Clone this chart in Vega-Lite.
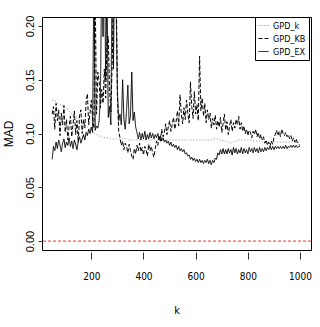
{
"$schema":"https://vega.github.io/schema/vega-lite/v6.json",
"width":269,"height":233,
"autosize":{"type":"none"},
"padding":{"left":42,"top":17,"right":9,"bottom":77},
"background":"white",
"config":{"view":{"stroke":"black","strokeWidth":1},"font":"Liberation Sans"},
"data":{"values":[
{"k":50,"GPD_k":0.131,"GPD_KB":0.118,"GPD_EX":0.076},
{"k":55,"GPD_k":0.131,"GPD_KB":0.125,"GPD_EX":0.088},
{"k":60,"GPD_k":0.130,"GPD_KB":0.104,"GPD_EX":0.084},
{"k":65,"GPD_k":0.130,"GPD_KB":0.128,"GPD_EX":0.092},
{"k":70,"GPD_k":0.129,"GPD_KB":0.112,"GPD_EX":0.086},
{"k":75,"GPD_k":0.128,"GPD_KB":0.122,"GPD_EX":0.094},
{"k":80,"GPD_k":0.127,"GPD_KB":0.098,"GPD_EX":0.089},
{"k":85,"GPD_k":0.127,"GPD_KB":0.119,"GPD_EX":0.083},
{"k":90,"GPD_k":0.126,"GPD_KB":0.108,"GPD_EX":0.091},
{"k":95,"GPD_k":0.125,"GPD_KB":0.126,"GPD_EX":0.095},
{"k":100,"GPD_k":0.124,"GPD_KB":0.101,"GPD_EX":0.087},
{"k":105,"GPD_k":0.123,"GPD_KB":0.113,"GPD_EX":0.092},
{"k":110,"GPD_k":0.122,"GPD_KB":0.094,"GPD_EX":0.089},
{"k":115,"GPD_k":0.121,"GPD_KB":0.107,"GPD_EX":0.096},
{"k":120,"GPD_k":0.120,"GPD_KB":0.116,"GPD_EX":0.088},
{"k":125,"GPD_k":0.119,"GPD_KB":0.097,"GPD_EX":0.093},
{"k":130,"GPD_k":0.118,"GPD_KB":0.109,"GPD_EX":0.086},
{"k":135,"GPD_k":0.117,"GPD_KB":0.121,"GPD_EX":0.094},
{"k":140,"GPD_k":0.116,"GPD_KB":0.099,"GPD_EX":0.090},
{"k":145,"GPD_k":0.115,"GPD_KB":0.112,"GPD_EX":0.085},
{"k":150,"GPD_k":0.114,"GPD_KB":0.092,"GPD_EX":0.093},
{"k":155,"GPD_k":0.113,"GPD_KB":0.117,"GPD_EX":0.097},
{"k":160,"GPD_k":0.112,"GPD_KB":0.122,"GPD_EX":0.091},
{"k":165,"GPD_k":0.111,"GPD_KB":0.100,"GPD_EX":0.095},
{"k":170,"GPD_k":0.110,"GPD_KB":0.113,"GPD_EX":0.099},
{"k":175,"GPD_k":0.108,"GPD_KB":0.105,"GPD_EX":0.094},
{"k":180,"GPD_k":0.107,"GPD_KB":0.129,"GPD_EX":0.101},
{"k":185,"GPD_k":0.106,"GPD_KB":0.137,"GPD_EX":0.098},
{"k":190,"GPD_k":0.105,"GPD_KB":0.108,"GPD_EX":0.104},
{"k":195,"GPD_k":0.104,"GPD_KB":0.119,"GPD_EX":0.100},
{"k":200,"GPD_k":0.103,"GPD_KB":0.131,"GPD_EX":0.106},
{"k":205,"GPD_k":0.102,"GPD_KB":0.112,"GPD_EX":0.101},
{"k":210,"GPD_k":0.101,"GPD_KB":0.105,"GPD_EX":0.260},
{"k":215,"GPD_k":0.100,"GPD_KB":0.230,"GPD_EX":0.103},
{"k":220,"GPD_k":0.099,"GPD_KB":0.118,"GPD_EX":0.107},
{"k":225,"GPD_k":0.098,"GPD_KB":0.157,"GPD_EX":0.105},
{"k":230,"GPD_k":0.098,"GPD_KB":0.149,"GPD_EX":0.112},
{"k":235,"GPD_k":0.097,"GPD_KB":0.124,"GPD_EX":0.135},
{"k":240,"GPD_k":0.097,"GPD_KB":0.141,"GPD_EX":0.260},
{"k":245,"GPD_k":0.096,"GPD_KB":0.128,"GPD_EX":0.190},
{"k":250,"GPD_k":0.096,"GPD_KB":0.160,"GPD_EX":0.280},
{"k":255,"GPD_k":0.096,"GPD_KB":0.133,"GPD_EX":0.150},
{"k":260,"GPD_k":0.096,"GPD_KB":0.185,"GPD_EX":0.240},
{"k":265,"GPD_k":0.096,"GPD_KB":0.190,"GPD_EX":0.115},
{"k":270,"GPD_k":0.095,"GPD_KB":0.142,"GPD_EX":0.125},
{"k":275,"GPD_k":0.095,"GPD_KB":0.120,"GPD_EX":0.108},
{"k":280,"GPD_k":0.095,"GPD_KB":0.165,"GPD_EX":0.270},
{"k":285,"GPD_k":0.095,"GPD_KB":0.230,"GPD_EX":0.160},
{"k":290,"GPD_k":0.095,"GPD_KB":0.260,"GPD_EX":0.300},
{"k":295,"GPD_k":0.095,"GPD_KB":0.250,"GPD_EX":0.220},
{"k":300,"GPD_k":0.095,"GPD_KB":0.135,"GPD_EX":0.140},
{"k":305,"GPD_k":0.095,"GPD_KB":0.102,"GPD_EX":0.112},
{"k":310,"GPD_k":0.095,"GPD_KB":0.096,"GPD_EX":0.118},
{"k":315,"GPD_k":0.095,"GPD_KB":0.089,"GPD_EX":0.108},
{"k":320,"GPD_k":0.095,"GPD_KB":0.093,"GPD_EX":0.150},
{"k":325,"GPD_k":0.095,"GPD_KB":0.085,"GPD_EX":0.113},
{"k":330,"GPD_k":0.095,"GPD_KB":0.091,"GPD_EX":0.104},
{"k":335,"GPD_k":0.095,"GPD_KB":0.088,"GPD_EX":0.121},
{"k":340,"GPD_k":0.095,"GPD_KB":0.082,"GPD_EX":0.145},
{"k":345,"GPD_k":0.094,"GPD_KB":0.090,"GPD_EX":0.109},
{"k":350,"GPD_k":0.094,"GPD_KB":0.084,"GPD_EX":0.116},
{"k":355,"GPD_k":0.094,"GPD_KB":0.079,"GPD_EX":0.157},
{"k":360,"GPD_k":0.094,"GPD_KB":0.076,"GPD_EX":0.112},
{"k":365,"GPD_k":0.094,"GPD_KB":0.086,"GPD_EX":0.120},
{"k":370,"GPD_k":0.094,"GPD_KB":0.081,"GPD_EX":0.106},
{"k":375,"GPD_k":0.094,"GPD_KB":0.089,"GPD_EX":0.101},
{"k":380,"GPD_k":0.094,"GPD_KB":0.084,"GPD_EX":0.095},
{"k":385,"GPD_k":0.094,"GPD_KB":0.091,"GPD_EX":0.101},
{"k":390,"GPD_k":0.094,"GPD_KB":0.083,"GPD_EX":0.094},
{"k":395,"GPD_k":0.094,"GPD_KB":0.087,"GPD_EX":0.100},
{"k":400,"GPD_k":0.094,"GPD_KB":0.080,"GPD_EX":0.095},
{"k":405,"GPD_k":0.094,"GPD_KB":0.088,"GPD_EX":0.102},
{"k":410,"GPD_k":0.094,"GPD_KB":0.085,"GPD_EX":0.094},
{"k":415,"GPD_k":0.094,"GPD_KB":0.079,"GPD_EX":0.099},
{"k":420,"GPD_k":0.094,"GPD_KB":0.090,"GPD_EX":0.095},
{"k":425,"GPD_k":0.094,"GPD_KB":0.084,"GPD_EX":0.101},
{"k":430,"GPD_k":0.094,"GPD_KB":0.088,"GPD_EX":0.096},
{"k":435,"GPD_k":0.094,"GPD_KB":0.082,"GPD_EX":0.100},
{"k":440,"GPD_k":0.094,"GPD_KB":0.078,"GPD_EX":0.095},
{"k":445,"GPD_k":0.094,"GPD_KB":0.086,"GPD_EX":0.099},
{"k":450,"GPD_k":0.094,"GPD_KB":0.093,"GPD_EX":0.096},
{"k":455,"GPD_k":0.094,"GPD_KB":0.089,"GPD_EX":0.100},
{"k":460,"GPD_k":0.094,"GPD_KB":0.098,"GPD_EX":0.095},
{"k":465,"GPD_k":0.094,"GPD_KB":0.092,"GPD_EX":0.098},
{"k":470,"GPD_k":0.094,"GPD_KB":0.104,"GPD_EX":0.093},
{"k":475,"GPD_k":0.094,"GPD_KB":0.097,"GPD_EX":0.096},
{"k":480,"GPD_k":0.094,"GPD_KB":0.101,"GPD_EX":0.092},
{"k":485,"GPD_k":0.094,"GPD_KB":0.109,"GPD_EX":0.094},
{"k":490,"GPD_k":0.094,"GPD_KB":0.099,"GPD_EX":0.091},
{"k":495,"GPD_k":0.094,"GPD_KB":0.106,"GPD_EX":0.093},
{"k":500,"GPD_k":0.094,"GPD_KB":0.112,"GPD_EX":0.089},
{"k":505,"GPD_k":0.094,"GPD_KB":0.102,"GPD_EX":0.092},
{"k":510,"GPD_k":0.094,"GPD_KB":0.108,"GPD_EX":0.088},
{"k":515,"GPD_k":0.094,"GPD_KB":0.115,"GPD_EX":0.090},
{"k":520,"GPD_k":0.094,"GPD_KB":0.104,"GPD_EX":0.087},
{"k":525,"GPD_k":0.094,"GPD_KB":0.111,"GPD_EX":0.089},
{"k":530,"GPD_k":0.094,"GPD_KB":0.121,"GPD_EX":0.085},
{"k":535,"GPD_k":0.094,"GPD_KB":0.107,"GPD_EX":0.088},
{"k":540,"GPD_k":0.094,"GPD_KB":0.136,"GPD_EX":0.084},
{"k":545,"GPD_k":0.094,"GPD_KB":0.118,"GPD_EX":0.086},
{"k":550,"GPD_k":0.094,"GPD_KB":0.109,"GPD_EX":0.083},
{"k":555,"GPD_k":0.094,"GPD_KB":0.124,"GPD_EX":0.085},
{"k":560,"GPD_k":0.094,"GPD_KB":0.113,"GPD_EX":0.081},
{"k":565,"GPD_k":0.094,"GPD_KB":0.131,"GPD_EX":0.082},
{"k":570,"GPD_k":0.094,"GPD_KB":0.119,"GPD_EX":0.079},
{"k":575,"GPD_k":0.094,"GPD_KB":0.110,"GPD_EX":0.080},
{"k":580,"GPD_k":0.094,"GPD_KB":0.148,"GPD_EX":0.076},
{"k":585,"GPD_k":0.094,"GPD_KB":0.125,"GPD_EX":0.078},
{"k":590,"GPD_k":0.094,"GPD_KB":0.114,"GPD_EX":0.075},
{"k":595,"GPD_k":0.094,"GPD_KB":0.139,"GPD_EX":0.077},
{"k":600,"GPD_k":0.094,"GPD_KB":0.118,"GPD_EX":0.074},
{"k":605,"GPD_k":0.094,"GPD_KB":0.127,"GPD_EX":0.076},
{"k":610,"GPD_k":0.094,"GPD_KB":0.112,"GPD_EX":0.073},
{"k":615,"GPD_k":0.094,"GPD_KB":0.172,"GPD_EX":0.076},
{"k":620,"GPD_k":0.094,"GPD_KB":0.121,"GPD_EX":0.073},
{"k":625,"GPD_k":0.094,"GPD_KB":0.133,"GPD_EX":0.075},
{"k":630,"GPD_k":0.094,"GPD_KB":0.116,"GPD_EX":0.072},
{"k":635,"GPD_k":0.094,"GPD_KB":0.128,"GPD_EX":0.075},
{"k":640,"GPD_k":0.094,"GPD_KB":0.110,"GPD_EX":0.073},
{"k":645,"GPD_k":0.094,"GPD_KB":0.122,"GPD_EX":0.076},
{"k":650,"GPD_k":0.094,"GPD_KB":0.113,"GPD_EX":0.072},
{"k":655,"GPD_k":0.094,"GPD_KB":0.119,"GPD_EX":0.075},
{"k":660,"GPD_k":0.094,"GPD_KB":0.105,"GPD_EX":0.071},
{"k":665,"GPD_k":0.094,"GPD_KB":0.114,"GPD_EX":0.075},
{"k":670,"GPD_k":0.095,"GPD_KB":0.108,"GPD_EX":0.073},
{"k":675,"GPD_k":0.095,"GPD_KB":0.117,"GPD_EX":0.077},
{"k":680,"GPD_k":0.095,"GPD_KB":0.104,"GPD_EX":0.076},
{"k":685,"GPD_k":0.095,"GPD_KB":0.112,"GPD_EX":0.082},
{"k":690,"GPD_k":0.094,"GPD_KB":0.106,"GPD_EX":0.080},
{"k":695,"GPD_k":0.094,"GPD_KB":0.115,"GPD_EX":0.085},
{"k":700,"GPD_k":0.094,"GPD_KB":0.101,"GPD_EX":0.081},
{"k":705,"GPD_k":0.093,"GPD_KB":0.109,"GPD_EX":0.086},
{"k":710,"GPD_k":0.093,"GPD_KB":0.118,"GPD_EX":0.081},
{"k":715,"GPD_k":0.093,"GPD_KB":0.103,"GPD_EX":0.085},
{"k":720,"GPD_k":0.092,"GPD_KB":0.111,"GPD_EX":0.081},
{"k":725,"GPD_k":0.092,"GPD_KB":0.099,"GPD_EX":0.086},
{"k":730,"GPD_k":0.091,"GPD_KB":0.107,"GPD_EX":0.082},
{"k":735,"GPD_k":0.091,"GPD_KB":0.113,"GPD_EX":0.085},
{"k":740,"GPD_k":0.092,"GPD_KB":0.102,"GPD_EX":0.080},
{"k":745,"GPD_k":0.092,"GPD_KB":0.110,"GPD_EX":0.087},
{"k":750,"GPD_k":0.093,"GPD_KB":0.105,"GPD_EX":0.082},
{"k":755,"GPD_k":0.093,"GPD_KB":0.113,"GPD_EX":0.086},
{"k":760,"GPD_k":0.093,"GPD_KB":0.108,"GPD_EX":0.081},
{"k":765,"GPD_k":0.094,"GPD_KB":0.116,"GPD_EX":0.085},
{"k":770,"GPD_k":0.094,"GPD_KB":0.104,"GPD_EX":0.082},
{"k":775,"GPD_k":0.094,"GPD_KB":0.110,"GPD_EX":0.087},
{"k":780,"GPD_k":0.094,"GPD_KB":0.102,"GPD_EX":0.081},
{"k":785,"GPD_k":0.094,"GPD_KB":0.107,"GPD_EX":0.086},
{"k":790,"GPD_k":0.094,"GPD_KB":0.100,"GPD_EX":0.082},
{"k":795,"GPD_k":0.094,"GPD_KB":0.104,"GPD_EX":0.085},
{"k":800,"GPD_k":0.094,"GPD_KB":0.098,"GPD_EX":0.081},
{"k":805,"GPD_k":0.094,"GPD_KB":0.103,"GPD_EX":0.087},
{"k":810,"GPD_k":0.094,"GPD_KB":0.101,"GPD_EX":0.083},
{"k":815,"GPD_k":0.094,"GPD_KB":0.096,"GPD_EX":0.086},
{"k":820,"GPD_k":0.093,"GPD_KB":0.102,"GPD_EX":0.082},
{"k":825,"GPD_k":0.093,"GPD_KB":0.099,"GPD_EX":0.087},
{"k":830,"GPD_k":0.093,"GPD_KB":0.104,"GPD_EX":0.083},
{"k":835,"GPD_k":0.093,"GPD_KB":0.097,"GPD_EX":0.086},
{"k":840,"GPD_k":0.093,"GPD_KB":0.101,"GPD_EX":0.082},
{"k":845,"GPD_k":0.093,"GPD_KB":0.095,"GPD_EX":0.087},
{"k":850,"GPD_k":0.093,"GPD_KB":0.099,"GPD_EX":0.083},
{"k":855,"GPD_k":0.092,"GPD_KB":0.094,"GPD_EX":0.086},
{"k":860,"GPD_k":0.092,"GPD_KB":0.097,"GPD_EX":0.083},
{"k":865,"GPD_k":0.092,"GPD_KB":0.091,"GPD_EX":0.087},
{"k":870,"GPD_k":0.092,"GPD_KB":0.094,"GPD_EX":0.084},
{"k":875,"GPD_k":0.092,"GPD_KB":0.089,"GPD_EX":0.087},
{"k":880,"GPD_k":0.092,"GPD_KB":0.092,"GPD_EX":0.085},
{"k":885,"GPD_k":0.092,"GPD_KB":0.088,"GPD_EX":0.088},
{"k":890,"GPD_k":0.092,"GPD_KB":0.093,"GPD_EX":0.085},
{"k":895,"GPD_k":0.092,"GPD_KB":0.090,"GPD_EX":0.088},
{"k":900,"GPD_k":0.092,"GPD_KB":0.096,"GPD_EX":0.085},
{"k":905,"GPD_k":0.092,"GPD_KB":0.099,"GPD_EX":0.088},
{"k":910,"GPD_k":0.092,"GPD_KB":0.103,"GPD_EX":0.086},
{"k":915,"GPD_k":0.092,"GPD_KB":0.098,"GPD_EX":0.088},
{"k":920,"GPD_k":0.092,"GPD_KB":0.102,"GPD_EX":0.086},
{"k":925,"GPD_k":0.092,"GPD_KB":0.097,"GPD_EX":0.088},
{"k":930,"GPD_k":0.092,"GPD_KB":0.104,"GPD_EX":0.086},
{"k":935,"GPD_k":0.092,"GPD_KB":0.100,"GPD_EX":0.088},
{"k":940,"GPD_k":0.092,"GPD_KB":0.098,"GPD_EX":0.086},
{"k":945,"GPD_k":0.092,"GPD_KB":0.101,"GPD_EX":0.089},
{"k":950,"GPD_k":0.092,"GPD_KB":0.097,"GPD_EX":0.086},
{"k":955,"GPD_k":0.092,"GPD_KB":0.099,"GPD_EX":0.088},
{"k":960,"GPD_k":0.092,"GPD_KB":0.095,"GPD_EX":0.087},
{"k":965,"GPD_k":0.092,"GPD_KB":0.098,"GPD_EX":0.089},
{"k":970,"GPD_k":0.092,"GPD_KB":0.093,"GPD_EX":0.087},
{"k":975,"GPD_k":0.092,"GPD_KB":0.096,"GPD_EX":0.089},
{"k":980,"GPD_k":0.092,"GPD_KB":0.092,"GPD_EX":0.087},
{"k":985,"GPD_k":0.092,"GPD_KB":0.095,"GPD_EX":0.089},
{"k":990,"GPD_k":0.092,"GPD_KB":0.091,"GPD_EX":0.087},
{"k":995,"GPD_k":0.092,"GPD_KB":0.090,"GPD_EX":0.088},
{"k":1000,"GPD_k":0.092,"GPD_KB":0.089,"GPD_EX":0.088}
]},
"layer":[
{"transform":[{"fold":["GPD_k","GPD_KB","GPD_EX"],"as":["series","v"]}],
 "mark":{"type":"line","clip":true},
 "encoding":{
  "x":{"field":"k","type":"quantitative","scale":{"domain":[11,1042],"nice":false,"zero":false},
   "axis":{"values":[200,400,600,800,1000],"format":"d","grid":false,"domain":false,"tickSize":7,"offset":2,"tickColor":"#333","labelFont":"DejaVu Sans Condensed, Liberation Sans, sans-serif","labelFontSize":10,"labelPadding":12,"labelColor":"black","labelFlush":false,"labelOverlap":false,"title":"k","titleFont":"DejaVu Sans Condensed, Liberation Sans, sans-serif","titleFontSize":11,"titleFontWeight":"normal","titleColor":"black","titleY":52,"titleBaseline":"top"}},
  "y":{"field":"v","type":"quantitative","scale":{"domain":[-0.0083,0.2083],"nice":false,"zero":false},
   "axis":{"values":[0,0.05,0.1,0.15,0.2],"format":".2f","grid":false,"domain":false,"tickSize":4,"tickColor":"#333","labelAngle":-90,"labelAlign":"center","labelBaseline":"bottom","labelPadding":3,"labelFontSize":11,"labelColor":"black","labelFlush":false,"labelOverlap":false,"title":"MAD","titleFontSize":12,"titleFontWeight":"normal","titleColor":"black","titleAngle":-90,"titleX":-27,"titleY":116.5,"titleAlign":"center","titleBaseline":"bottom"}},
  "color":{"field":"series","type":"nominal","scale":{"domain":["GPD_k","GPD_KB","GPD_EX"],"range":["#8c8c8c","#000000","#000000"]},
   "legend":{"orient":"none","legendX":213,"legendY":0,"title":null,"strokeColor":"black","fillColor":"white","padding":3,"symbolType":"stroke","symbolSize":100,"symbolStrokeWidth":1,"labelFont":"DejaVu Sans Condensed, Liberation Sans, sans-serif","labelFontSize":9,"labelColor":"black","rowPadding":2,"labelOffset":4,"cornerRadius":0}},
  "strokeDash":{"field":"series","type":"nominal","scale":{"domain":["GPD_k","GPD_KB","GPD_EX"],"range":[[1,2],[4,2],[1,0]]},
   "legend":{"orient":"none","legendX":213,"legendY":0,"title":null,"strokeColor":"black","fillColor":"white","padding":3,"symbolType":"stroke","symbolSize":100,"symbolStrokeWidth":1,"labelFont":"DejaVu Sans Condensed, Liberation Sans, sans-serif","labelFontSize":9,"labelColor":"black","rowPadding":2,"labelOffset":4,"cornerRadius":0}},
  "strokeWidth":{"field":"series","type":"nominal","scale":{"domain":["GPD_k","GPD_KB","GPD_EX"],"range":[1,1,1.3]},"legend":null}
 }},
{"data":{"values":[{"z":0}]},
 "mark":{"type":"rule","color":"#ff3030","strokeDash":[3,2],"strokeWidth":1},
 "encoding":{"y":{"field":"z","type":"quantitative"}}}
]
}
